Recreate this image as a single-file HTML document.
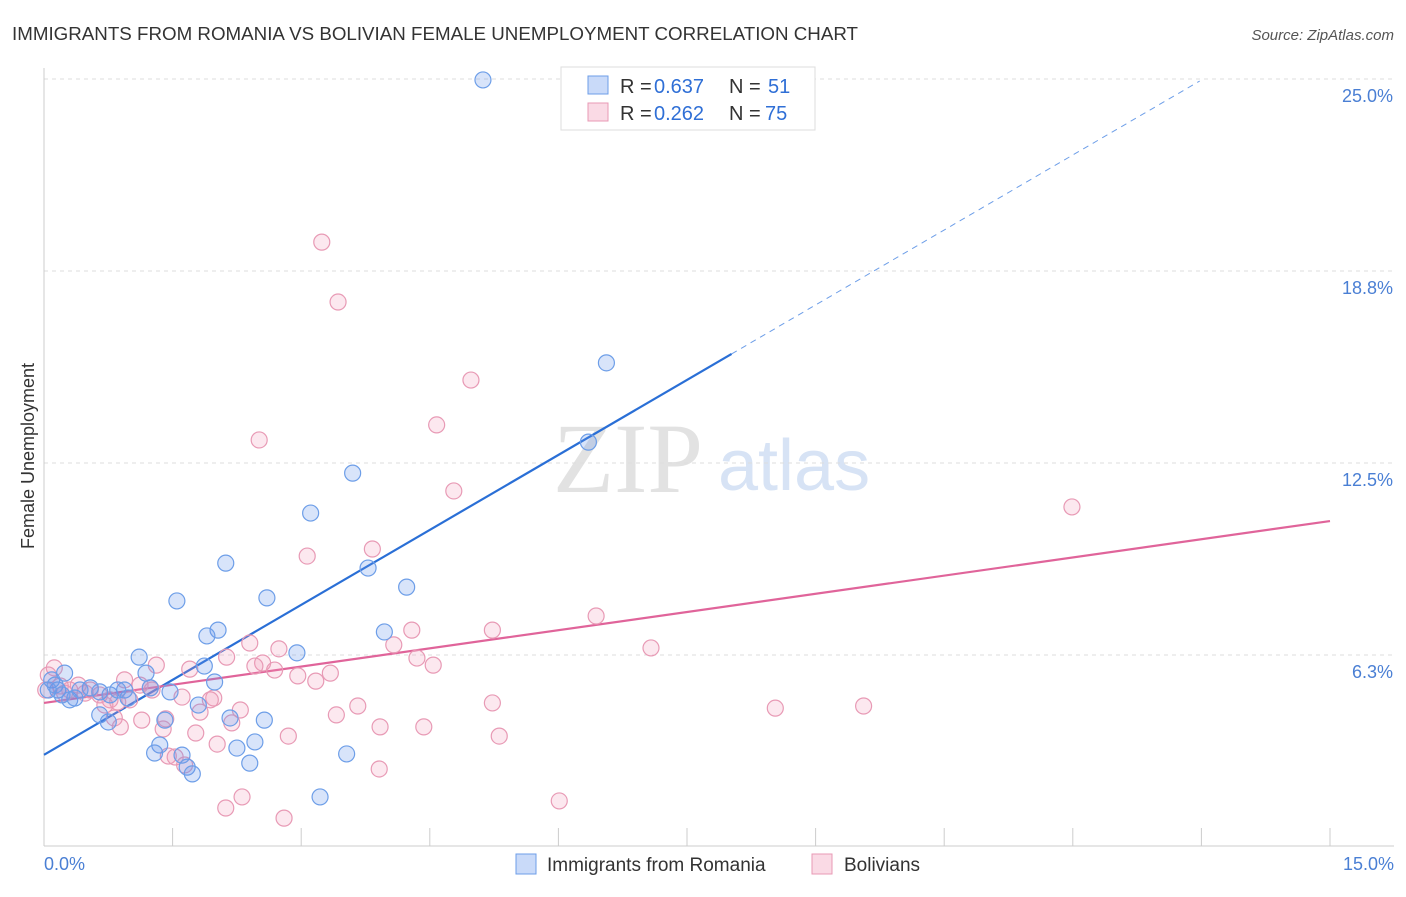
<!DOCTYPE html>
<html><head><meta charset="utf-8"><style>
body{margin:0;background:#fff;font-family:"Liberation Sans",sans-serif}
svg text{font-family:"Liberation Sans",sans-serif}
</style></head><body>
<svg width="1406" height="892" xmlns="http://www.w3.org/2000/svg">
<text x="12" y="40" font-size="18" fill="#333" textLength="846" lengthAdjust="spacingAndGlyphs">IMMIGRANTS FROM ROMANIA VS BOLIVIAN FEMALE UNEMPLOYMENT CORRELATION CHART</text>
<text x="1394" y="40" font-size="15" fill="#555" font-style="italic" text-anchor="end">Source: ZipAtlas.com</text>
<text x="553" y="492" font-size="100" fill="#e2e2e2" style="font-family:'Liberation Serif',serif">ZIP</text>
<text x="718" y="490" font-size="72" fill="#d7e3f5">atlas</text>
<g id="grid"></g>
<g id="axes"></g>
<g id="lines"></g>
<g id="pts"></g>
<text transform="translate(34,456) rotate(-90)" font-size="18" fill="#333" text-anchor="middle">Female Unemployment</text>
<text x="44" y="870" font-size="18" fill="#4a7fd4">0.0%</text>
<text x="1394" y="870" font-size="18" fill="#4a7fd4" text-anchor="end">15.0%</text>
<g>
<rect x="561" y="67" width="254" height="63" fill="#fff" stroke="#ddd"/>
<rect x="588" y="76" width="20" height="18" fill="rgba(100,149,237,0.35)" stroke="#6d9ee8"/>
<rect x="588" y="103" width="20" height="18" fill="rgba(240,150,180,0.35)" stroke="#e89ab5"/>
<text x="620" y="93" font-size="20" fill="#333">R =</text>
<text x="654" y="93" font-size="20" fill="#2f6fd6">0.637</text>
<text x="729" y="93" font-size="20" fill="#333">N =</text>
<text x="768" y="93" font-size="20" fill="#2f6fd6">51</text>
<text x="620" y="120" font-size="20" fill="#333">R =</text>
<text x="654" y="120" font-size="20" fill="#2f6fd6">0.262</text>
<text x="729" y="120" font-size="20" fill="#333">N =</text>
<text x="765" y="120" font-size="20" fill="#2f6fd6">75</text>
</g>
<g>
<rect x="516" y="854" width="20" height="20" fill="rgba(100,149,237,0.35)" stroke="#6d9ee8"/>
<text x="547" y="871" font-size="19" fill="#333">Immigrants from Romania</text>
<rect x="812" y="854" width="20" height="20" fill="rgba(240,150,180,0.35)" stroke="#e89ab5"/>
<text x="844" y="871" font-size="19" fill="#333">Bolivians</text>
</g>
</svg>
<script>
const yTicks=[6.25,12.5,18.75,25];
const yTickLabels=["6.3%","12.5%","18.8%","25.0%"];
const xTicks=[0,1.5,3,4.5,6,7.5,9,10.5,12,13.5,15];
const blueX=[5.12,6.56,6.35,3.60,3.11,2.12,3.78,4.23,1.55,2.60,2.03,1.90,3.97,1.11,2.95,1.87,1.19,1.99,0.24,0.09,0.16,0.54,0.65,0.77,0.94,1.24,1.47,0.30,0.36,0.98,1.80,2.17,2.57,0.65,0.75,1.41,1.35,2.46,2.25,1.29,1.61,3.53,2.40,1.67,1.73,3.22,0.05,0.13,0.21,0.42,0.86];
const blueY=[24.97,15.76,13.18,12.17,10.87,9.24,9.08,8.46,8.01,8.11,7.06,6.87,7.00,6.18,6.32,5.89,5.66,5.37,5.66,5.44,5.11,5.18,5.05,4.95,5.11,5.18,5.05,4.79,4.85,4.85,4.62,4.20,4.13,4.30,4.07,4.13,3.32,3.42,3.22,3.06,2.99,3.03,2.73,2.60,2.38,1.63,5.11,5.27,4.95,5.11,5.11];
const pinkX=[3.24,3.43,4.98,2.51,4.58,4.78,11.99,3.07,3.83,6.44,5.23,4.29,7.08,2.40,2.74,4.08,4.35,4.54,2.55,2.46,2.13,1.70,1.31,2.69,2.96,3.34,3.17,1.98,1.61,1.12,0.94,0.65,0.12,0.05,0.19,0.30,0.48,0.77,0.86,1.26,1.82,2.29,3.66,5.23,8.53,9.56,3.41,1.42,1.14,0.82,0.89,1.39,2.19,1.77,2.85,3.92,4.43,5.31,2.02,1.45,1.53,1.64,3.91,2.31,2.12,2.80,6.01,1.24,0.24,0.54,0.40,1.00,0.71,0.02,1.94];
const pinkY=[19.69,17.74,15.20,13.25,13.74,11.59,11.07,9.47,9.70,7.52,7.06,7.06,6.48,6.64,6.45,6.58,6.15,5.92,5.99,5.89,6.18,5.79,5.92,5.76,5.57,5.66,5.40,4.85,4.88,5.27,5.44,4.95,5.83,5.60,5.24,5.11,5.01,4.79,4.72,5.11,4.39,4.46,4.59,4.69,4.52,4.59,4.30,4.17,4.13,4.20,3.91,3.84,4.04,3.71,3.61,3.91,3.91,3.61,3.35,2.96,2.93,2.67,2.54,1.63,1.27,0.94,1.50,5.18,5.01,5.11,5.27,4.79,4.62,5.11,4.79];
const blueLine={x0:0,y0:3.0,x1:8.02,y1:16.05,x2:13.48};
const pinkLine={x0:0,y0:4.69,x1:15,y1:10.61};
const NS="http://www.w3.org/2000/svg";
const X=v=>44+v/15*1286, Y=v=>847-v*30.72;
function mk(tag,attrs,parent){const e=document.createElementNS(NS,tag);for(const k in attrs)e.setAttribute(k,attrs[k]);document.getElementById(parent).appendChild(e);return e;}
yTicks.forEach((t,i)=>{
 const g=mk('line',{x1:44,x2:1394,y1:Y(t),y2:Y(t),stroke:'#ddd','stroke-dasharray':'4,4'},'grid');
 
 
 const tx=mk('text',{x:1393,y:Y(t)+23,'font-size':18,fill:'#4a7fd4','text-anchor':'end'},'axes');
 tx.textContent=yTickLabels[i];
 
 
});
const ax=mk('line',{x1:44,x2:1394,y1:846,y2:846,stroke:'#ccc'},'axes');


const ay=mk('line',{x1:44,x2:44,y1:68,y2:846,stroke:'#ccc'},'axes');


xTicks.forEach(t=>{
 const l=mk('line',{x1:X(t),x2:X(t),y1:828,y2:846,stroke:'#ccc'},'axes');
 
 
});
function dots(xs,ys,fill,stroke,name){
 xs.forEach((x,i)=>{
  const c=mk('circle',{cx:X(x),cy:Y(ys[i]),r:8,fill:fill,stroke:stroke,'stroke-width':1.2},'pts');
  
  
 });
}
dots(pinkX,pinkY,'rgba(240,150,180,0.22)','#e89ab5','bolivian-point');
dots(blueX,blueY,'rgba(100,149,237,0.25)','#6d9ee8','romania-point');
const slope=(blueLine.y1-blueLine.y0)/(blueLine.x1-blueLine.x0);
const bl=mk('line',{x1:X(blueLine.x0),y1:Y(blueLine.y0),x2:X(blueLine.x1),y2:Y(blueLine.y1),stroke:'#2a6fd6','stroke-width':2.2},'lines');


const bd=mk('line',{x1:X(blueLine.x1),y1:Y(blueLine.y1),x2:X(blueLine.x2),y2:Y(blueLine.y0+slope*blueLine.x2),stroke:'#6d9ee8','stroke-width':1,'stroke-dasharray':'6,5'},'lines');


const pl=mk('line',{x1:X(pinkLine.x0),y1:Y(pinkLine.y0),x2:X(pinkLine.x1),y2:Y(pinkLine.y1),stroke:'#e0649a','stroke-width':2.2},'lines');


</script>
</body></html>
